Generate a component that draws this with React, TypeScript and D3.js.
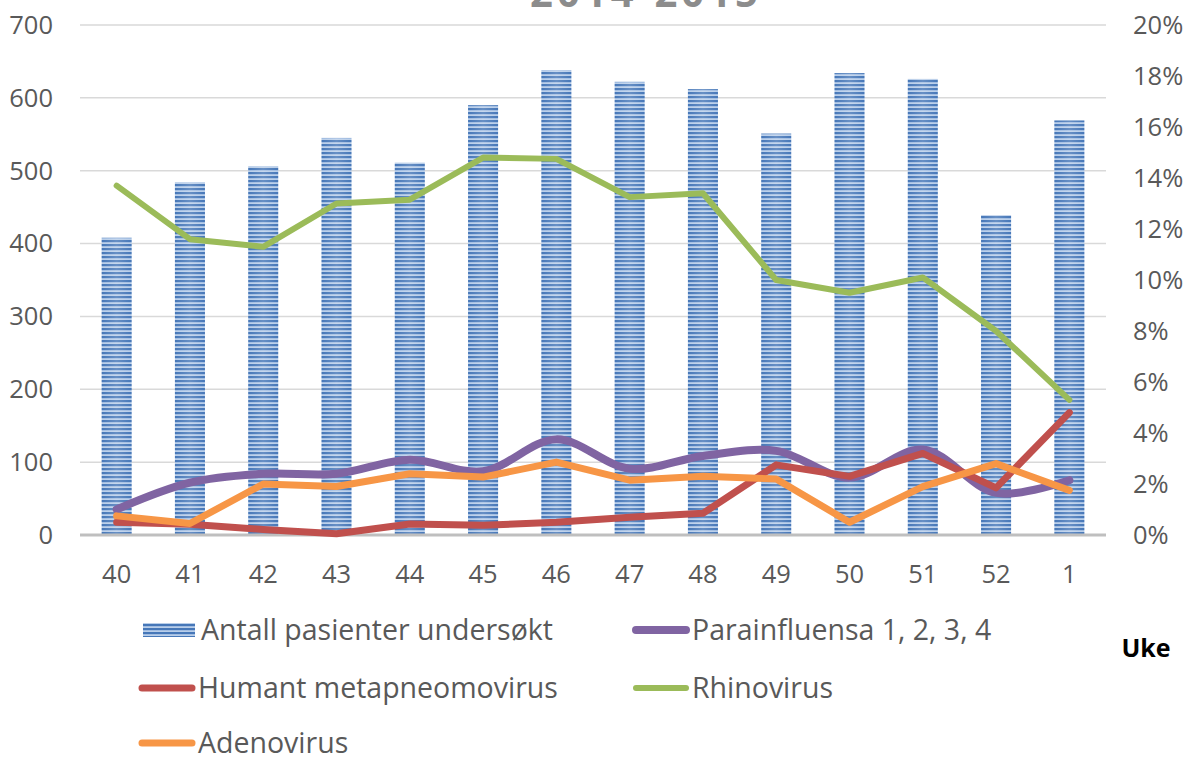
import React from "react";
import * as d3 from "d3";

const weeks = ["40", "41", "42", "43", "44", "45", "46", "47", "48", "49", "50", "51", "52", "1"];
const patients = [408, 484, 506, 545, 511, 590, 638, 622, 612, 551, 634, 626, 439, 569];
const parainfluensa = [1.0, 2.05, 2.4, 2.4, 2.95, 2.5, 3.75, 2.6, 3.1, 3.3, 2.25, 3.35, 1.65, 2.15];
const metapneumo = [0.5, 0.42, 0.22, 0.05, 0.43, 0.38, 0.5, 0.7, 0.85, 2.75, 2.3, 3.2, 1.85, 4.8];
const rhinovirus = [13.7, 11.6, 11.3, 13.0, 13.15, 14.8, 14.75, 13.25, 13.4, 10.0, 9.5, 10.1, 8.0, 5.3];
const adenovirus = [0.75, 0.45, 2.0, 1.9, 2.4, 2.27, 2.86, 2.15, 2.3, 2.2, 0.5, 1.9, 2.8, 1.75];
const leftTicks = [0, 100, 200, 300, 400, 500, 600, 700];
const rightTicks = [0, 2, 4, 6, 8, 10, 12, 14, 16, 18, 20];

const W = 1193;
const H = 758;
const plotLeft = 80;
const plotRight = 1106;
const plotTop = 25;
const plotBottom = 535;

const FONT = "'Open Sans', 'Noto Sans', sans-serif";
const TXT = "#595959";

export default function App() {
  const x = d3.scaleBand<string>().domain(weeks).range([plotLeft, plotRight]).paddingInner(0.59).paddingOuter(0.295);
  const xc = (i: number) => (x(weeks[i]) as number) + x.bandwidth() / 2;
  const yL = d3.scaleLinear().domain([0, 700]).range([plotBottom, plotTop]);
  const yR = d3.scaleLinear().domain([0, 20]).range([plotBottom, plotTop]);

  const lineLin = d3.line<number>().x((_, i) => xc(i)).y((v) => yR(v)).curve(d3.curveLinear);
  const lineSmooth = d3.line<number>().x((_, i) => xc(i)).y((v) => yR(v)).curve(d3.curveCatmullRom.alpha(0.5));

  const series = [
    { name: "Parainfluensa 1, 2, 3, 4", data: parainfluensa, color: "#8064A2", width: 8, smooth: true },
    { name: "Humant metapneomovirus", data: metapneumo, color: "#C0504D", width: 7, smooth: false },
    { name: "Rhinovirus", data: rhinovirus, color: "#9BBB59", width: 6, smooth: false },
    { name: "Adenovirus", data: adenovirus, color: "#F79646", width: 7, smooth: false },
  ];

  const legend = [
    { name: "Antall pasienter undersøkt", kind: "bar", x: 143, y: 630 },
    { name: series[0].name, kind: "line", s: series[0], x: 634, y: 630 },
    { name: series[1].name, kind: "line", s: series[1], x: 140, y: 688 },
    { name: series[2].name, kind: "line", s: series[2], x: 634, y: 688 },
    { name: series[3].name, kind: "line", s: series[3], x: 140, y: 743 },
  ];

  return (
    <svg width={W} height={H} style={{ position: "absolute", left: 0, top: 0, background: "#fff" }}>
      <defs>
        <pattern id="stripes" patternUnits="userSpaceOnUse" width="8" height="4">
          <rect x="0" y="0" width="8" height="4" fill="#8fb0dc" />
          <rect x="0" y="0" width="8" height="2" fill="#4677b8" />
          <rect x="0" y="2.8" width="8" height="0.7" fill="#e4ecf7" />
        </pattern>
        <linearGradient id="shine" x1="0" x2="1" y1="0" y2="0">
          <stop offset="0" stopColor="#ffffff" stopOpacity="0" />
          <stop offset="0.5" stopColor="#ffffff" stopOpacity="0.18" />
          <stop offset="1" stopColor="#ffffff" stopOpacity="0" />
        </linearGradient>
      </defs>

      <text x={646} y={7} textAnchor="middle" fontFamily={FONT} fontWeight="bold" fontSize={40} letterSpacing={4} fill="#8c8c8c">
        2014-2015
      </text>

      {leftTicks.map((t) =>
        t === 0 ? null : (
          <line key={"g" + t} x1={plotLeft} x2={plotRight} y1={yL(t)} y2={yL(t)} stroke="#d9d9d9" strokeWidth={1.5} />
        )
      )}

      {patients.map((v, i) => (
        <g key={"b" + i}>
          <rect x={x(weeks[i])} y={yL(v)} width={x.bandwidth()} height={plotBottom - yL(v)} fill="url(#stripes)" />
          <rect x={x(weeks[i])} y={yL(v)} width={x.bandwidth()} height={plotBottom - yL(v)} fill="url(#shine)" />
        </g>
      ))}

      <line x1={plotLeft} x2={plotRight} y1={plotBottom} y2={plotBottom} stroke="#bfbfbf" strokeWidth={3} />

      {series.map((s) => (
        <path
          key={s.name}
          d={(s.smooth ? lineSmooth : lineLin)(s.data) as string}
          fill="none"
          stroke={s.color}
          strokeWidth={s.width}
          strokeLinecap="round"
          strokeLinejoin="round"
        />
      ))}

      {leftTicks.map((t) => (
        <text key={"l" + t} x={53} y={yL(t)} dy="0.35em" textAnchor="end" fontFamily={FONT} fontSize={25.5} fill={TXT}>
          {t}
        </text>
      ))}
      {rightTicks.map((t) => (
        <text key={"r" + t} x={1133} y={yR(t)} dy="0.35em" textAnchor="start" fontFamily={FONT} fontSize={25.5} fill={TXT}>
          {t + "%"}
        </text>
      ))}
      {weeks.map((w, i) => (
        <text key={"x" + w} x={xc(i)} y={574} dy="0.35em" textAnchor="middle" fontFamily={FONT} fontSize={25.5} fill={TXT}>
          {w}
        </text>
      ))}

      {legend.map((l) => (
        <g key={"lg" + l.name}>
          {l.kind === "bar" ? (
            <rect x={l.x} y={l.y - 7} width={52} height={14} fill="url(#stripes)" />
          ) : (
            <line
              x1={l.x + 2}
              x2={l.x + 52}
              y1={l.y}
              y2={l.y}
              stroke={(l as any).s.color}
              strokeWidth={(l as any).s.width}
              strokeLinecap="round"
            />
          )}
          <text x={l.x + 58} y={l.y} dy="0.35em" fontFamily={FONT} fontSize={28.5} fill={TXT}>
            {l.name}
          </text>
        </g>
      ))}

      <text x={1146} y={648} dy="0.35em" textAnchor="middle" fontFamily={FONT} fontWeight="bold" fontSize={25} fill="#000">
        Uke
      </text>
    </svg>
  );
}
